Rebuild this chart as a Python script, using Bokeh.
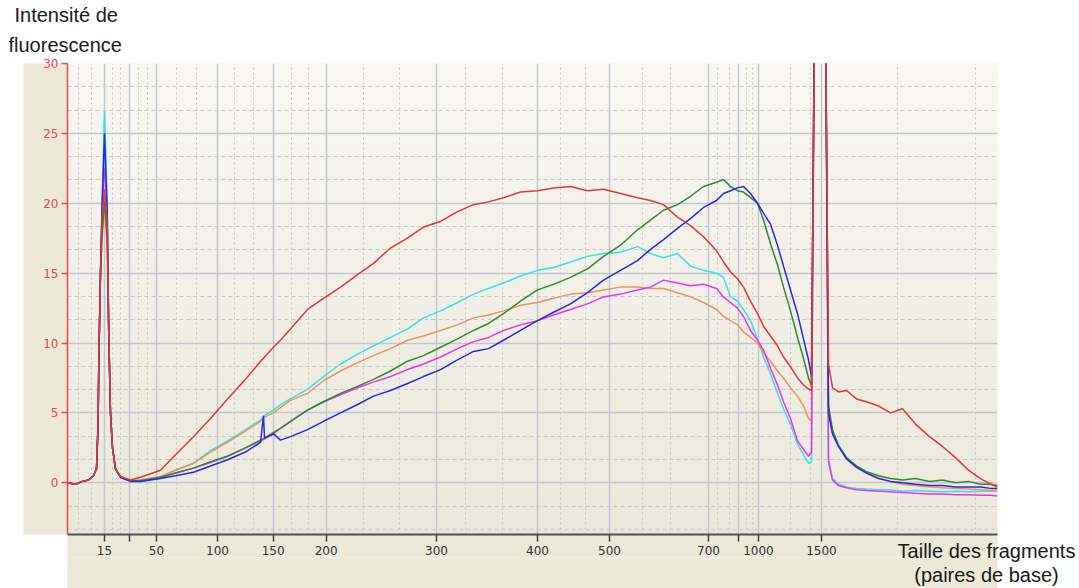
from bokeh.plotting import figure
from bokeh.models import (Range1d, FixedTicker, SingleIntervalTicker, BoxAnnotation, Title,
                          LinearAxis)
from bokeh.embed import file_html
from bokeh.resources import INLINE

# ---- axis description (migration axis, arbitrary units) ----
x_tick_pos = [37, 62, 89, 150, 205.7, 258.7, 369, 470, 542, 641, 671, 691, 754]
x_tick_labels = ["15", "", "50", "100", "150", "200", "300", "400", "500", "700", "", "1000", "1500"]
x_minor_pos = [11, 24, 44.7, 53, 71, 79.7, 109, 129, 167, 185.7, 223.7, 241, 295.7, 332.3,
               398, 434.7, 493, 518, 575, 603, 649.7, 662, 679, 684.7, 723, 743, 830, 908]
x_title_pos = 919
x_title = "Taille des fragments\n(paires de base)"
y_title_lines = ["Intensité de", "fluorescence"]

# ---- sampled migration positions ----
migration = [0, 8, 15, 21, 26, 29, 30.5, 31.5, 33, 34.7, 37, 39.7, 41.3, 43, 45, 48, 53, 63, 73,
             93, 108, 126, 143, 160, 178, 193, 196, 197, 206,
             213, 223, 240, 256, 273, 290, 306, 323, 340, 356,
             373, 390, 406, 421, 436, 453, 470, 486, 503, 520,
             536, 553, 570, 583, 596, 610, 623, 636, 649, 656,
             663, 670, 676, 683, 690, 696, 703, 710, 716, 723,
             730, 736, 741, 744, 747, 758, 761, 765, 771, 779,
             789, 799, 811, 823, 835, 848, 862, 875, 888, 901,
             913, 923, 930]

# ---- fluorescence of the six samples ----
red = [0.0, -0.1, 0.1, 0.2, 0.5, 1.0, 4.0, 9.5, 15.0, 19.0, 21.0, 18.5, 10.5, 5.0, 2.5, 1.0, 0.45, 0.2, 0.4,
       0.9, 2.0, 3.3, 4.6, 6.0, 7.4, 8.7, 8.9, 9.0, 9.7,
       10.2, 11.0, 12.4, 13.2, 14.0, 14.9, 15.7, 16.8, 17.5, 18.3,
       18.7, 19.4, 19.9, 20.1, 20.4, 20.8, 20.9, 21.1, 21.2, 20.9,
       21.0, 20.7, 20.4, 20.2, 19.9, 19.0, 18.4, 17.6, 16.6, 15.8,
       15.1, 14.6, 14.0, 13.0, 12.1, 11.2, 10.5, 9.8, 9.0, 8.3,
       7.5, 7.0, 6.7, 6.6, 34, 34, 8.5, 6.8, 6.5, 6.6,
       6.0, 5.8, 5.5, 5.0, 5.3, 4.2, 3.3, 2.6, 1.8, 0.9,
       0.3, -0.1, -0.3]
green = [0.0, -0.1, 0.1, 0.2, 0.5, 1.0, 4.0, 9.5, 15.0, 18.0, 20.1, 17.5, 10.5, 5.0, 2.5, 1.0, 0.4, 0.15, 0.15,
         0.4, 0.7, 1.05, 1.5, 1.9, 2.5, 3.05, 3.15, 3.2, 3.6,
         3.9, 4.4, 5.2, 5.8, 6.4, 6.9, 7.4, 8.0, 8.7, 9.1,
         9.7, 10.3, 10.9, 11.4, 12.1, 13.0, 13.8, 14.2, 14.7, 15.3,
         16.2, 17.0, 18.1, 18.8, 19.5, 19.9, 20.5, 21.2, 21.5, 21.7,
         21.2, 20.9, 20.8, 20.4, 20.0, 18.8, 17.1, 15.6, 14.0, 12.3,
         10.4, 8.9, 7.5, 6.9, 34, 34, 5.5, 3.8, 2.7, 1.8,
         1.2, 0.8, 0.5, 0.3, 0.2, 0.3, 0.1, 0.2, 0.0, 0.1,
         -0.1, -0.1, -0.2]
blue = [0.0, -0.1, 0.1, 0.2, 0.5, 1.0, 4.0, 9.5, 15.0, 20.0, 25.0, 19.5, 10.5, 5.0, 2.5, 1.0, 0.4, 0.1, 0.1,
        0.3, 0.5, 0.75, 1.2, 1.65, 2.2, 2.9, 4.8, 3.2, 3.5,
        3.05, 3.3, 3.8, 4.4, 5.0, 5.6, 6.2, 6.6, 7.1, 7.6,
        8.1, 8.8, 9.4, 9.6, 10.2, 10.9, 11.6, 12.2, 12.8, 13.6,
        14.5, 15.2, 15.9, 16.7, 17.4, 18.2, 18.9, 19.7, 20.2, 20.7,
        20.9, 21.1, 21.2, 20.7, 20.0, 19.3, 18.5, 17.0, 15.5, 13.8,
        12.1, 10.3, 8.8, 7.6, 34, 34, 5.0, 3.5, 2.6, 1.7,
        1.1, 0.7, 0.3, 0.1, 0.0, -0.1, -0.2, -0.2, -0.3, -0.3,
        -0.3, -0.4, -0.4]
cyan = [0.0, -0.1, 0.1, 0.2, 0.5, 1.0, 4.0, 9.5, 15.0, 20.5, 26.6, 20.0, 10.5, 5.0, 2.5, 1.0, 0.4, 0.15, 0.2,
        0.45, 0.9, 1.4, 2.3, 3.0, 3.8, 4.5, 4.7, 4.8, 5.2,
        5.6, 6.0, 6.7, 7.6, 8.5, 9.2, 9.8, 10.4, 11.0, 11.8,
        12.3, 12.9, 13.5, 13.9, 14.3, 14.8, 15.2, 15.4, 15.8, 16.2,
        16.4, 16.5, 16.9, 16.4, 16.1, 16.4, 15.5, 15.2, 15.0, 14.7,
        13.3, 13.0, 12.4, 11.6, 10.3, 9.0, 7.8, 6.4, 5.3, 4.2,
        2.8, 2.0, 1.4, 1.5, 34, 34, 1.7, 0.3, -0.1, -0.3,
        -0.4, -0.45, -0.5, -0.5, -0.6, -0.55, -0.6, -0.65, -0.6, -0.65,
        -0.6, -0.6, -0.6]
magenta = [0.0, -0.1, 0.1, 0.2, 0.5, 1.0, 4.0, 9.5, 15.0, 20.0, 22.5, 19.5, 10.5, 5.0, 2.5, 1.0, 0.4, 0.1, 0.15,
           0.35, 0.7, 1.05, 1.45, 1.9, 2.5, 3.0, 3.1, 3.15, 3.5,
           3.9, 4.4, 5.2, 5.8, 6.3, 6.8, 7.2, 7.6, 8.1, 8.5,
           9.0, 9.6, 10.1, 10.4, 10.9, 11.3, 11.6, 12.0, 12.4, 12.8,
           13.3, 13.5, 13.8, 14.0, 14.5, 14.3, 14.1, 14.2, 13.9, 13.3,
           12.9, 12.5, 11.9, 10.9, 10.2, 9.5, 8.2, 7.0, 5.8, 4.6,
           3.0, 2.4, 1.9, 2.2, 34, 34, 1.5, 0.2, -0.2, -0.35,
           -0.5, -0.55, -0.6, -0.65, -0.7, -0.75, -0.8, -0.8, -0.85, -0.85,
           -0.9, -0.9, -0.95]
orange = [0.0, -0.1, 0.1, 0.2, 0.5, 1.0, 4.0, 9.5, 15.0, 17.5, 19.8, 17.0, 10.5, 5.0, 2.5, 1.0, 0.4, 0.15, 0.2,
          0.45, 0.9, 1.4, 2.2, 2.9, 3.7, 4.4, 4.6, 4.7, 5.0,
          5.4, 5.9, 6.4, 7.3, 8.0, 8.6, 9.1, 9.6, 10.2, 10.5,
          10.9, 11.3, 11.8, 12.0, 12.3, 12.7, 12.9, 13.2, 13.5, 13.6,
          13.8, 14.0, 14.0, 13.9, 13.9, 13.6, 13.3, 12.9, 12.4, 11.9,
          11.6, 11.3, 10.8, 10.4, 10.0, 9.3, 8.7, 8.0, 7.5, 6.8,
          6.2, 5.5, 4.6, 4.4, 34, 34, 5.0, 3.6, 2.6, 1.8,
          1.2, 0.7, 0.35, 0.1, -0.1, -0.2, -0.3, -0.35, -0.4, -0.45,
          -0.5, -0.55, -0.6]

series = [(cyan, "#33e4e4"), (orange, "#f0925e"), (magenta, "#f030ee"),
          (green, "#2e8a2e"), (blue, "#2828e4"), (red, "#e8362c")]

X0, X1 = 0, 930
Y0, Y1 = -3.7, 30
BEIGE = "#ece9d9"
FNT = "Liberation Sans"

p = figure(width=1079, height=588, output_backend="svg", toolbar_location=None,
           x_range=Range1d(X0, X1), y_range=Range1d(Y0, Y1),
           min_border_left=67, min_border_right=82, min_border_top=63, min_border_bottom=53)
p.border_fill_color = "white"
p.background_fill_color = "#f1efe6"
p.outline_line_color = None

# vertical gradient inside the plot frame
nb = 30
top_c = (248, 247, 243)
bot_c = (235, 232, 219)
for i in range(nb):
    t = (i + 0.5) / nb
    c = tuple(int(round(top_c[k] + (bot_c[k] - top_c[k]) * t)) for k in range(3))
    yt = Y1 - (Y1 - Y0) * i / nb
    yb = Y1 - (Y1 - Y0) * (i + 1) / nb
    p.add_layout(BoxAnnotation(left=X0, right=X1, bottom=yb, top=yt,
                               fill_color="#%02x%02x%02x" % c, fill_alpha=1,
                               line_color=None, level="image"))

for ys, col in series:
    p.line(migration, ys, line_color=col, line_width=1.5)

# x axis
xt = FixedTicker(ticks=x_tick_pos, minor_ticks=x_minor_pos)
xax = p.xaxis[0]
xax.ticker = xt
xax.major_label_overrides = {t: l for t, l in zip(x_tick_pos, x_tick_labels)}
xax.axis_line_color = "#505050"
xax.axis_line_width = 2
xax.major_tick_line_color = "#404040"
xax.major_tick_line_width = 1.5
xax.major_tick_out = 7
xax.major_tick_in = 0
xax.minor_tick_line_color = None
xax.major_label_text_color = "#333333"
xax.major_label_text_font = "DejaVu Sans"
xax.major_label_text_font_size = "12px"
xax.major_label_standoff = 4

# y axis
yax = p.yaxis[0]
yax.ticker = SingleIntervalTicker(interval=5, num_minor_ticks=3)
yax.axis_line_color = "#f04848"
yax.axis_line_width = 1.5
yax.major_tick_line_color = "#f04848"
yax.major_tick_line_width = 1.5
yax.major_tick_out = 6
yax.major_tick_in = 0
yax.minor_tick_line_color = None
yax.major_label_text_color = "#e84a4a"
yax.major_label_text_font = "DejaVu Sans"
yax.major_label_text_font_size = "12px"
yax.major_label_standoff = 3
yax.axis_label = " "
yax.axis_label_text_font_size = "12px"
yax.axis_label_standoff = 0

# grids
for g in (p.xgrid, p.ygrid):
    g.grid_line_color = "#c2c6ce"
    g.grid_line_width = 1.5
    g.minor_grid_line_color = "#c9c9c4"
    g.minor_grid_line_width = 1
p.xgrid.ticker = xt
p.xgrid.minor_grid_line_dash = "2 3"
p.ygrid.minor_grid_line_dash = "4 3"

# y title (two lines above the plot, left)
p.add_layout(Title(text=y_title_lines[1], align="left", offset=-59, standoff=15,
                   text_font=FNT, text_font_size="20px", text_font_style="normal",
                   text_color="#1a1a1a"), "above")
p.add_layout(Title(text=y_title_lines[0], align="left", offset=-53, standoff=-3,
                   text_font=FNT, text_font_size="20px", text_font_style="normal",
                   text_color="#1a1a1a"), "above")

# x title as a second, line-less axis under the first one
xt2 = FixedTicker(ticks=[x_title_pos], minor_ticks=[])
ax2 = LinearAxis(ticker=xt2, major_label_overrides={x_title_pos: x_title},
                 axis_line_color=None, major_tick_line_color=None, minor_tick_line_color=None,
                 major_tick_out=0, major_tick_in=0, major_label_standoff=-18,
                 major_label_text_font=FNT, major_label_text_font_size="20px",
                 major_label_text_color="#1a1a1a", major_label_text_line_height=1.1)
p.add_layout(ax2, "below")

# beige panel behind the axes (when the axis background is supported)
for ax in (xax, yax, ax2):
    if hasattr(ax, "background_fill_color"):
        ax.background_fill_color = BEIGE

open("out.html", "w").write(file_html(p, INLINE))
